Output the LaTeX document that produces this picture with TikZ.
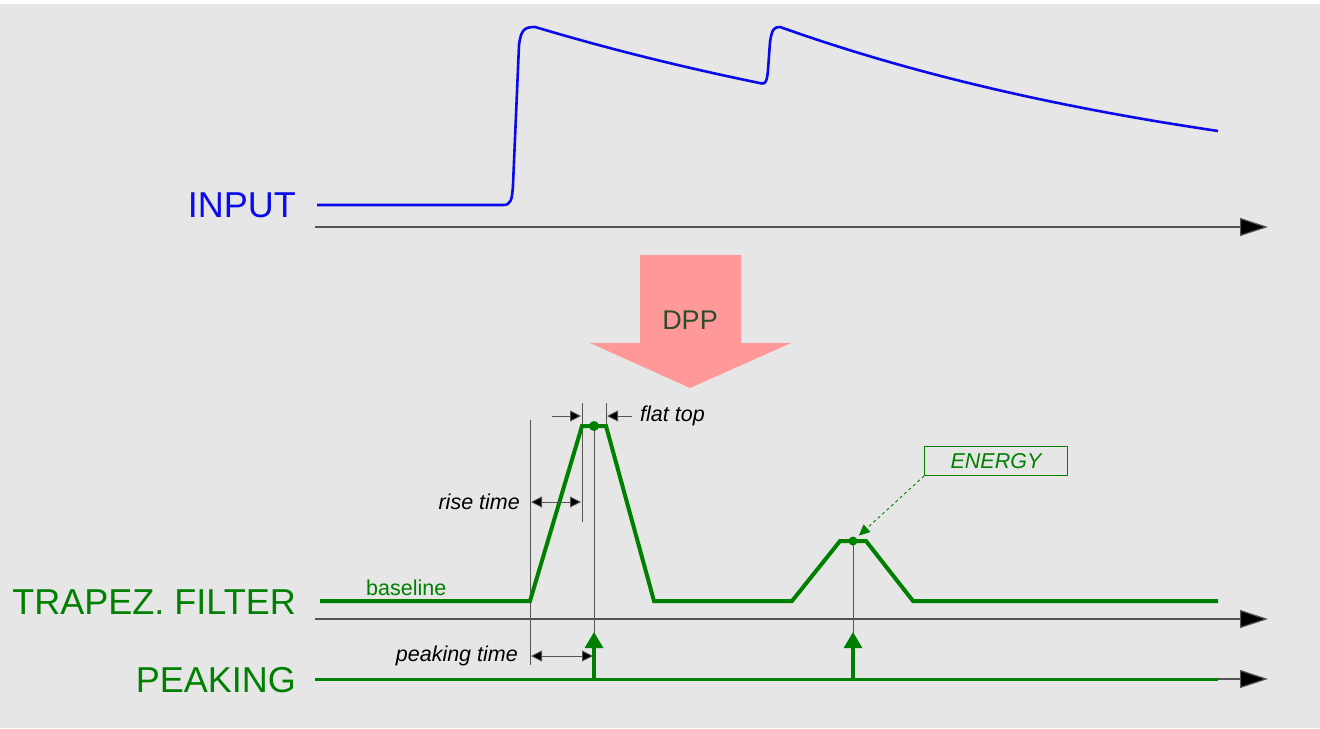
\documentclass[tikz,border=0pt]{standalone}
\usepackage{fontspec}
\setmainfont{Liberation Sans}
\usetikzlibrary{arrows.meta}
\definecolor{bggray}{RGB}{230,230,230}
\definecolor{sigblue}{RGB}{10,10,235}
\definecolor{trapgreen}{RGB}{0,128,0}
\definecolor{dppred}{RGB}{255,153,153}
\definecolor{dpptext}{RGB}{45,75,45}
\definecolor{axisgray}{RGB}{85,85,85}

\begin{document}
\begin{tikzpicture}[x=1bp,y=-1bp,
  axis/.style={draw=axisgray,line width=1.2bp,-{Triangle[length=28bp,width=18bp,fill=black]}},
  insig/.style={draw=sigblue,line width=2.6bp,line join=round},
  trapsig/.style={draw=trapgreen,line width=4bp,line join=miter},
  guide/.style={draw=axisgray,line width=0.9bp},
  dimarrow/.style={draw=axisgray,line width=0.9bp,-{Triangle[length=11bp,width=11bp,fill=black]}},
  dimboth/.style={draw=axisgray,line width=0.9bp,{Triangle[length=11bp,width=11bp,fill=black]}-{Triangle[length=11bp,width=11bp,fill=black]}},
  pkarrow/.style={draw=trapgreen,line width=3.2bp,-{Triangle[length=16bp,width=18bp]}},
  biglabel/.style={font=\fontsize{36bp}{40bp}\selectfont,anchor=base east,inner sep=0pt},
  smalltext/.style={font=\fontsize{21.5bp}{25bp}\selectfont\itshape,inner sep=0pt}]

% to fix background
\fill[bggray] (0,0) rectangle (1320,728);
\fill[white] (0,0) rectangle (1320,4);
\useasboundingbox (0,0) rectangle (1320,728);

% to write signal names
\node [biglabel,text=sigblue] (inlab) at (296,217) {INPUT};
\node [biglabel,text=trapgreen] (traplab) at (296,614) {TRAPEZ. FILTER};
\node [biglabel,text=trapgreen] (pklab) at (296,692) {PEAKING};

% to draw time axes
\coordinate (in0) at (315,227);
\coordinate (in1) at (1268,227);
\coordinate (tr0) at (315,619);
\coordinate (tr1) at (1268,619);
\coordinate (pk0) at (315,679);
\coordinate (pk1) at (1268,679);
\coordinate (pkg) at (1218,679);
\draw [axis] (in0) -- (in1);
\draw [axis] (tr0) -- (tr1);
\draw [axis] (pk0) -- (pk1);

% input signal
\draw [insig] (317,205) -- (503,205) .. controls (511,205) and (512,200) .. (513,185)
  -- (519,45) .. controls (521,30) and (524,27) .. (535,27)
  -- plot[domain=535:762,samples=40] (\x,{205-178*exp(-(\x-535)/594)})
  .. controls (766,84) and (767,80) .. (768,70) -- (770,42)
  .. controls (772,29) and (774,27) .. (780,27)
  -- plot[domain=780:1218,samples=60] (\x,{205-178*exp(-(\x-780)/499)});

% DPP arrow
\fill [dppred] (640,255) -- (741,255) -- (741,343) -- (791,343) -- (690,388)
  -- (590,343) -- (640,343) -- cycle;
\node [font=\fontsize{27bp}{32bp}\selectfont,text=dpptext] (dpp) at (690,320) {DPP};

% points of the trapezoids
\coordinate (rs) at (530,601);
\coordinate (rt) at (582,426);
\coordinate (ft) at (606,426);
\coordinate (top1) at (594,426);
\coordinate (top2) at (853,541);

% to draw guide lines
\draw [guide] (530,420) -- (530,665);
\draw [guide] (582,403) -- (582,522);
\draw [guide] (606,403) -- (ft);
\draw [guide] (top1) -- (top1 |- pk0);
\draw [guide] (top2) -- (top2 |- pk0);

% trapezoidal filter output
\draw [trapsig] (320,601) -- (rs) -- (rt) -- (ft) -- (654,601) -- (792,601)
  -- (840,541) -- (866,541) -- (913,601) -- (1218,601);
\fill [trapgreen] (top1) circle (5bp);
\fill [trapgreen] (top2) circle (4.5bp);
\node [anchor=base west,inner sep=0pt,text=trapgreen,font=\fontsize{21.5bp}{25bp}\selectfont] (base) at (366,595) {baseline};

% peaking line and flags
\draw [draw=trapgreen,line width=3bp] (pk0) -- (pkg);
\draw [pkarrow] (top1 |- pk0) -- (594,632);
\draw [pkarrow] (top2 |- pk0) -- (853,632);

% to draw arrows with text
\draw [dimarrow] (552,416) -- (581,416);
\draw [dimarrow] (632,416) -- (607,416);
\node [smalltext,anchor=west] (flat) at (640,416) {flat top};
\draw [dimboth] (531,502) -- (581,502);
\node [smalltext,anchor=east] (rise) at (520,502) {rise time};
\draw [dimboth] (531,656) -- (593,656);
\node [smalltext,anchor=east] (peak) at (518,656) {peaking time};

% energy label
\node [draw=trapgreen,line width=0.8bp,minimum width=143bp,minimum height=29bp,
  smalltext,text=trapgreen] (energy) at (996,461) {ENERGY};
\draw [draw=trapgreen,dashed,line width=0.9bp,-{Triangle[length=11bp,width=10bp]},shorten >=8bp]
  (energy.south west) -- (top2);
\end{tikzpicture}
\end{document}
